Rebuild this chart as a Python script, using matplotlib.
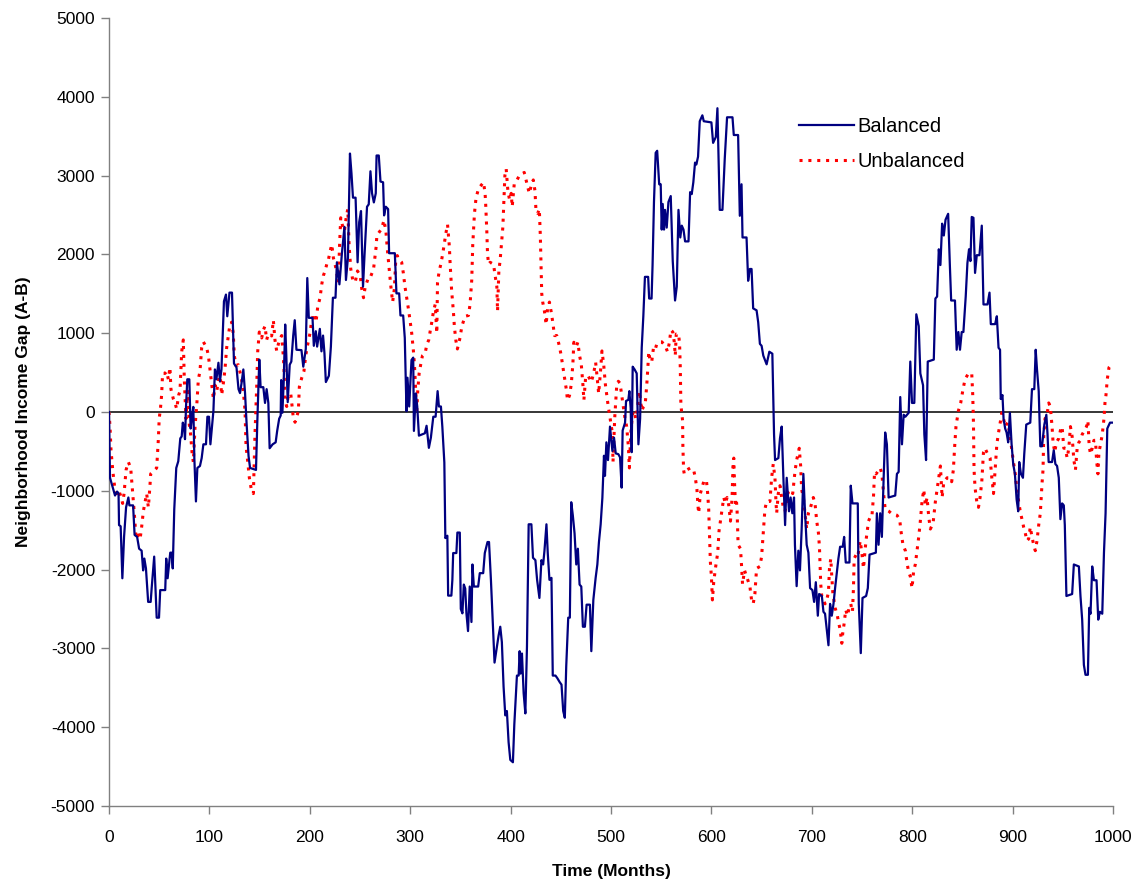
import matplotlib
matplotlib.use("Agg")
import matplotlib.pyplot as plt

plt.rcParams["font.family"] = ["Liberation Sans", "DejaVu Sans"]
plt.rcParams["axes.unicode_minus"] = False

# (month, income gap) points
balanced = [
    (0, 0), (1, -835), (4.3, -985), (6, -1060), (8, -1010), (9.5, -1030), (10, -1435),
    (11.6, -1450), (13.3, -2110), (15, -1585), (17, -1210), (19.3, -1085), (20.3, -1185),
    (24, -1185), (25.5, -1560), (28, -1585), (30, -1735), (32.5, -1760), (34, -2010),
    (35.2, -1860), (36.8, -1985), (39, -2410), (41.5, -2410), (42.5, -2235), (45, -1835),
    (47.5, -2610), (49.8, -2610), (51, -2260), (56, -2260), (57, -1860), (58.4, -2110),
    (61, -1785), (62.4, -1785), (63.5, -1985), (65, -1235), (67, -710), (69, -625),
    (71, -335), (72.4, -310), (73.5, -135), (74.7, -185), (75.7, -345), (76.7, 65),
    (78, 415), (80, 415), (81.3, -210), (82.7, -60), (84, 65), (85, -585), (86.6, -1135),
    (88, -710), (90.6, -685), (92.3, -585), (94, -410), (96.6, -410), (98, -60),
    (99.6, -60), (101, -410), (104, 15), (105.5, 540), (107, 415), (109, 625),
    (110.5, 390), (112, 540), (114.5, 1405), (116.5, 1490), (117.8, 1215), (120, 1515),
    (122.5, 1515), (124.5, 615), (127, 565), (129, 290), (130.5, 240), (132, 365),
    (133.8, 540), (135.5, 240), (137, -135), (139, -560), (140.5, -710), (146.4, -735),
    (147.7, -135), (149.7, 665), (151, 315), (153.7, 315), (155.4, 115), (157, 290),
    (158.7, 115), (160, -460), (163, -410), (166, -385), (167.5, -240), (169.5, -85),
    (171, -45), (171.5, 405), (172.7, -10), (174, 380), (175.5, 1110), (176.6, 720),
    (178, 125), (180, 600), (181.6, 640), (183.5, 970), (185, 1165), (186.7, 790),
    (191.7, 785), (193.5, 575), (196, 800), (197.5, 1700), (199, 1195), (202.7, 1195),
    (204, 840), (206, 1025), (207.3, 830), (210, 1055), (211.6, 770), (213.2, 970),
    (214.6, 745), (216, 380), (219, 460), (221, 830), (223, 1450), (225.6, 1450),
    (227, 1900), (229.5, 1620), (232, 2015), (234.5, 2350), (236, 1675), (238, 1960),
    (240, 3280), (241.5, 3030), (243, 2720), (245.6, 2720), (247.6, 1900), (249.2, 2410),
    (251, 2550), (253, 1590), (254.6, 2015), (257, 2605), (258.7, 2635), (260.4, 3055),
    (262, 2775), (263.8, 2660), (265.7, 2775), (266.5, 3255), (268.7, 3255),
    (270.4, 2925), (273, 2915), (274, 2495), (275.7, 2605), (278, 2575), (279, 2015),
    (284.7, 2015), (286.3, 1505), (289, 1505), (290.3, 1225), (293, 1225), (294.6, 940),
    (296.3, 10), (297.3, 435), (299, 70), (301.3, 660), (303, 690), (303.7, -240),
    (305.6, 235), (307, 70), (308.7, -300), (314.6, -270), (316.3, -175), (318.6, -455),
    (320.6, -325), (323, -60), (325.3, -60), (327.3, 265), (328.6, 70), (330.6, 70),
    (332, -185), (334, -640), (335, -1600), (337, -1570), (337.8, -2330), (341, -2330),
    (342, -2130), (342.8, -1790), (346, -1790), (347, -1530), (349.4, -1530),
    (350.4, -2500), (352, -2555), (353.4, -2190), (354.8, -2240), (356, -2555),
    (357.6, -2780), (359.3, -2215), (361, -2665), (362, -1935), (363.4, -2215),
    (367.7, -2215), (369.3, -2045), (372.7, -2045), (374.3, -1790), (377, -1650),
    (378.5, -1650), (380.4, -2130), (382.4, -2725), (384, -3180), (386.4, -2980),
    (388, -2840), (389.7, -2725), (391.3, -2920), (393, -3485), (394.7, -3850),
    (396.3, -3795), (398, -4190), (399.7, -4415), (402.3, -4445), (403.7, -3965),
    (406.3, -3345), (408, -3345), (409, -3035), (410, -3320), (411.3, -3065),
    (413, -3570), (414.7, -3825), (416.3, -2980), (418, -1425), (420.7, -1425),
    (422.3, -1850), (424.7, -1880), (426.4, -2130), (428.7, -2360), (430.7, -1880),
    (432.4, -1935), (433.7, -1765), (435.7, -1425), (437, -1790), (438.7, -2130),
    (440.7, -2105), (442, -3345), (444.7, -3345), (446.4, -3375), (449, -3430),
    (450.7, -3460), (452.4, -3795), (454, -3880), (455.4, -3230), (457.4, -2610),
    (459, -2610), (460.4, -1145), (462, -1315), (463.7, -1540), (465.4, -1935),
    (467, -1735), (468.7, -2190), (470.4, -2215), (472, -2725), (474, -2725),
    (475.7, -2445), (479, -2445), (480.4, -3035), (482.4, -2385), (484.7, -2105),
    (486.4, -1935), (488, -1650), (489.7, -1425), (491.4, -1090), (493, -555),
    (494, -810), (495.4, -385), (497, -610), (499, -185), (501.4, -495), (503, -325),
    (504.7, -525), (507.3, -535), (509, -575), (510.6, -960), (511.6, -235), (514, -135),
    (515, 140), (517.3, 155), (518.3, 265), (519.6, 50), (520.6, -510), (521.6, 575),
    (523.5, 540), (525.6, 490), (527.3, -410), (529, -85), (530.6, 815), (532.2, 1215),
    (533.8, 1715), (537, 1715), (538, 1440), (540.4, 1440), (541.4, 1865), (542.8, 2665),
    (544.5, 3290), (546, 3315), (548, 2890), (549.5, 2890), (550.5, 2315), (551.5, 2640),
    (552.8, 2315), (553.8, 2565), (555.5, 2340), (557.2, 2665), (559.5, 2740),
    (561.5, 1915), (563.8, 1415), (565.5, 1590), (567.2, 2565), (569, 2215),
    (570.5, 2365), (572.2, 2315), (573.8, 2165), (577.2, 2165), (578.8, 2790),
    (580.4, 2765), (582, 2915), (583.7, 3165), (585, 3140), (586.7, 3240), (588.4, 3690),
    (591, 3765), (592.4, 3690), (600, 3675), (601.7, 3415), (604.4, 3490), (606, 3855),
    (608.3, 2565), (611, 2565), (613.3, 3215), (615.6, 3740), (621, 3740), (622.3, 3515),
    (626.6, 3515), (628.3, 2490), (630, 2890), (631, 2215), (635, 2215), (636.6, 1665),
    (638.3, 1815), (640, 1815), (641.6, 1315), (645, 1290), (646.6, 1140), (648.3, 865),
    (650, 840), (651.7, 715), (655, 605), (657.7, 765), (660.7, 740), (662.4, -285),
    (663.4, -610), (666.7, -585), (668.3, -335), (670, -185), (671.7, -835),
    (673.4, -1435), (675, -835), (677.3, -1260), (678.9, -1085), (680.6, -1285),
    (682.3, -1085), (683.2, -1685), (684.9, -2210), (686.6, -1760), (688.2, -2010),
    (689.9, -1485), (691.6, -785), (693.2, -1260), (694.9, -1685), (696.6, -1785),
    (698.3, -2235), (700.6, -2260), (702.3, -2410), (704, -2160), (706, -2585),
    (707.3, -2310), (710, -2335), (711.6, -2535), (713.2, -2560), (714.9, -2760),
    (716.6, -2960), (718.2, -2435), (719.9, -2585), (721.6, -2435), (723.2, -2235),
    (726.5, -1860), (728.2, -1710), (730.8, -1710), (732.2, -1585), (733.8, -1910),
    (737.5, -1910), (738.8, -935), (740.5, -1160), (745.8, -1160), (746.8, -2435),
    (748.8, -3060), (750.5, -2360), (754.1, -2335), (755.8, -2235), (757.5, -1810),
    (763.8, -1785), (764.8, -1285), (766.5, -1685), (768.1, -1285), (769.8, -1585),
    (771.5, -860), (773.1, -260), (774.8, -410), (776.5, -1085), (783.1, -1060),
    (784.8, -785), (786.5, -760), (788.1, 190), (789.8, -410), (791.5, -35),
    (793.2, -60), (796.5, -10), (798.1, 640), (799.8, 115), (802.1, 115), (804.1, 1240),
    (806.5, 1090), (808.1, 490), (810.8, 340), (812.1, -285), (813.8, -610),
    (815.5, 640), (821.5, 665), (823.1, 1440), (824.8, 1465), (826.5, 2065),
    (828.1, 1865), (829.8, 2390), (831.5, 2240), (833.2, 2440), (835.8, 2515),
    (837.5, 1865), (838.8, 1415), (842.6, 1415), (844.3, 790), (846, 1015), (847.6, 790),
    (849.3, 1015), (851, 1015), (853.3, 1465), (855, 1890), (856.6, 2065), (858, 1915),
    (859.3, 2475), (861, 2465), (862.6, 1765), (864.3, 1990), (867, 1990), (869.3, 2365),
    (871, 1365), (875, 1365), (877, 1515), (878.3, 1115), (882.6, 1115), (884.3, 1215),
    (886, 815), (887.5, 790), (888.2, 165), (889.9, 215), (891, -85), (892.6, -210),
    (894, -260), (895.6, -385), (897.3, -10), (899, -410), (900.6, -660), (902.3, -785),
    (904, -1110), (905.6, -1260), (906.6, -635), (908.3, -785), (910.3, -835),
    (911.6, -535), (913.6, -160), (917.6, -135), (919.3, 290), (921.6, 290), (923, 790),
    (924.3, 540), (926, 265), (927.6, -435), (929.3, -435), (931.6, -160), (933.6, -35),
    (934.8, -285), (935.9, -635), (939.3, -635), (941, -485), (942.6, -660),
    (944.3, -685), (946, -835), (947.6, -1360), (949.3, -1160), (951, -1185),
    (952, -1435), (953.6, -2335), (959.3, -2310), (961, -1935), (966, -1960),
    (967.6, -2335), (969.3, -2635), (971, -3210), (972.6, -3335), (975, -3335),
    (976.3, -2485), (977.6, -2560), (979.3, -1960), (981, -2135), (983.6, -2135),
    (985.3, -2635), (987, -2535), (989.3, -2560), (991, -1785), (992.6, -1285),
    (994.3, -210), (997, -135), (999.3, -135),
]

unbalanced = [
    (0, 0), (1, -185), (2, -485), (3.7, -735), (5, -885), (7, -1085), (9.3, -985),
    (11.6, -1060), (13.6, -1160), (15, -1035), (17, -735), (19.3, -635), (21.6, -710),
    (23.5, -1010), (25.2, -1285), (27, -1610), (29.2, -1560), (31, -1610), (32.5, -1460),
    (34.2, -1260), (37.5, -1035), (39.2, -1210), (40.8, -935), (41.5, -785),
    (47.5, -710), (49.1, -360), (50, -85), (51.4, 65), (52.4, 215), (53.4, 490),
    (55.8, 490), (57.4, 515), (59.1, 415), (60.7, 565), (61.7, 290), (64.1, 165),
    (65.7, 115), (67.4, 40), (69.4, 215), (70.7, 265), (72.4, 765), (74, 915), (75, 415),
    (76.7, -85), (78.3, 265), (80, -160), (81.3, -285), (82.7, -510), (84, -635),
    (85.7, -185), (87.3, 65), (89, 415), (90.6, 515), (92.3, 815), (94, 890),
    (97.3, 815), (99, 715), (100.6, 540), (104, 165), (105.6, 340), (107.3, 265),
    (110.5, 515), (112.2, 215), (113.9, 365), (115.5, 540), (117.2, 815), (118.8, 965),
    (120.5, 1115), (122.2, 1140), (123.8, 990), (124.8, 715), (126.5, 590),
    (128.8, 600), (132.1, 415), (133.8, 265), (135.5, 15), (136.5, -435), (137.8, -585),
    (139.8, -835), (142.1, -1010), (143.8, -1035), (145.4, -285), (147.1, 315),
    (148.1, 765), (149.7, 1015), (152.1, 940), (153.7, 1040), (155.4, 1090), (157, 915),
    (158.7, 990), (162, 965), (163.7, 1165), (165.3, 915), (167, 775), (169.7, 915),
    (172, 970), (173.6, 715), (174.3, 545), (175.3, 150), (177, 70), (178.6, 210),
    (181, 235), (183.6, -75), (185.3, -130), (188.6, 10), (189.6, 320), (192, 435),
    (194.2, 520), (195.9, 715), (197.5, 830), (200.2, 1000), (201.9, 1165),
    (204.2, 1250), (206.2, 1140), (207.9, 1335), (210.2, 1450), (211.9, 1620),
    (213.5, 1730), (215.2, 1790), (216.9, 1875), (218.5, 1930), (220.2, 2040),
    (221.9, 2125), (223.5, 1955), (225.2, 1875), (226.8, 1760), (228.5, 1645),
    (229.5, 2070), (230.8, 2465), (232.8, 2350), (234.5, 2295), (236.2, 2465),
    (237.8, 2575), (239.2, 2100), (240.8, 1815), (242.8, 1675), (245.2, 1645),
    (247.5, 1790), (250.2, 1730), (251.8, 1560), (253.5, 1450), (255.2, 1590),
    (258.5, 1705), (260.2, 1705), (263.5, 1815), (266.1, 2100), (266.8, 2240),
    (271.5, 2325), (273.9, 2435), (275.8, 2295), (277.2, 2070), (278.8, 1845),
    (280.5, 1620), (282.5, 1395), (284.2, 1560), (285.5, 1900), (287.1, 1985),
    (289.1, 1930), (291.5, 1900), (293.2, 1760), (294.8, 1590), (296.5, 1450),
    (298.2, 1310), (299.8, 1165), (301.5, 1000), (303.2, 775), (304.2, 605),
    (305.5, 265), (306.5, 10), (307.5, 265), (308.9, 490), (310.5, 605), (312.2, 715),
    (314.9, 745), (316.5, 855), (318.5, 915), (319.9, 1025), (321.5, 1140),
    (323.2, 1280), (324.9, 1365), (326.5, 1000), (327.2, 1645), (328.9, 1790),
    (330.5, 1875), (332.5, 2015), (335.5, 2265), (337.2, 2380), (339, 2100),
    (339.7, 1900), (341.3, 1535), (343, 1280), (344, 1085), (345.4, 915), (347, 800),
    (349.6, 940), (351.4, 1085), (354.6, 1215), (358, 1225), (359.6, 1365),
    (361.3, 1675), (362.3, 2125), (364, 2520), (365.6, 2720), (368, 2830),
    (369.6, 2860), (373, 2915), (374.6, 2775), (375.3, 2605), (376.3, 2295),
    (377, 2015), (378, 1875), (379.6, 1900), (383, 1875), (384.6, 1730), (386.3, 1590),
    (387, 1280), (388.3, 1790), (389.6, 1930), (392.3, 2350), (393.4, 2690),
    (394.3, 3000), (395.6, 3085), (397.3, 2805), (399, 2690), (400.6, 2775),
    (401.6, 2605), (403.6, 2890), (405.3, 2915), (408.6, 3000), (413.6, 3040),
    (416, 2915), (418.6, 2775), (420.3, 2860), (422.6, 2945), (424.3, 2805),
    (425.3, 2550), (427, 2520), (428.6, 2575), (429.6, 2240), (430.3, 1845),
    (431, 1505), (432, 1395), (433.7, 1280), (435.4, 1110), (437, 1335), (438.7, 1395),
    (440.3, 1280), (442, 1140), (443.7, 970), (446, 970), (448.7, 830), (450.4, 715),
    (452, 575), (453.7, 435), (455.4, 295), (456.7, 150), (458.7, 210), (460.4, 350),
    (462, 605), (463, 885), (465.4, 830), (467, 885), (468.7, 715), (470.4, 605),
    (472, 350), (473, 150), (474.7, 435), (477, 465), (480.4, 380), (482.7, 490),
    (484.7, 630), (486, 465), (487.7, 235), (489.4, 490), (491, 775), (492.7, 605),
    (494.4, 350), (497, 95), (498.7, -45), (499.7, -130), (501.4, -270), (502, -635),
    (503.7, -75), (505.6, 315), (507.3, 390), (509, 365), (510.6, 215), (512.3, 65),
    (514, -85), (515.6, -185), (517.3, -435), (518.3, -710), (519.6, -285),
    (521.3, -35), (523, 15), (524.6, -85), (526.3, 40), (528.3, 265), (530.6, 15),
    (532.3, 65), (534, 90), (535.6, 340), (536.6, 540), (537.6, 765), (539, 640),
    (540.6, 640), (542.3, 815), (544, 790), (545.6, 865), (548.3, 890), (550.6, 890),
    (554, 840), (556.3, 765), (558.3, 890), (559.6, 1040), (561.6, 1015), (563, 890),
    (564, 715), (565, 990), (567.3, 990), (568.3, 865), (569, 565), (569.6, 90),
    (571.3, -110), (571.6, -435), (572.3, -735), (573, -785), (575.6, -735),
    (579, -710), (582.3, -735), (584, -835), (585.6, -985), (586.6, -1185),
    (587.3, -1285), (589, -1035), (592.3, -885), (595, -860), (596.3, -1035),
    (597.3, -1235), (598.3, -1610), (599, -1910), (600, -2085), (601, -2385),
    (602.3, -2160), (604, -1985), (606.3, -1785), (607.6, -1510), (609, -1385),
    (610.6, -1235), (612.3, -1085), (614, -1160), (615.6, -1085), (617.3, -1185),
    (619, -1385), (620.6, -1085), (621.6, -635), (622.3, -585), (623, -885),
    (624, -1185), (625, -1135), (625.6, -1260), (626.6, -1685), (629, -1735),
    (630.3, -2010), (631, -2185), (633, -2010), (638.3, -2210), (640, -2385),
    (641.6, -2435), (643.3, -2310), (645, -1985), (648.3, -1960), (650, -1835),
    (651.6, -1535), (653.3, -1235), (655, -1135), (658.3, -1135), (660, -835),
    (661.6, -660), (663.3, -835), (664.3, -1135), (665, -1285), (666.6, -1035),
    (668.3, -935), (670, -1085), (671.6, -1210), (673.3, -1260), (675, -1160),
    (676.6, -1010), (678.3, -985), (681, -1035), (683.2, -760), (684.9, -610),
    (687.5, -460), (688.9, -685), (689.9, -985), (691.6, -1085), (693.2, -1285),
    (694.9, -1485), (696.6, -1285), (698.2, -1235), (701.5, -1085), (703.2, -1160),
    (704.9, -1385), (706.6, -1535), (707.6, -1710), (708.2, -1935), (708.9, -2185),
    (709.9, -2335), (711.6, -2385), (713.2, -2435), (714.9, -2385), (716.6, -2285),
    (717.6, -1985), (718.9, -1860), (719.9, -2085), (720.9, -2285), (723.2, -2485),
    (725.5, -2585), (726.5, -2660), (728.2, -2760), (729.9, -2935), (730.8, -2810),
    (732.2, -2685), (733.8, -2510), (735.5, -2585), (737.2, -2485), (738.8, -2435),
    (740.5, -2535), (741.5, -2235), (742.2, -1860), (744.2, -1810), (745.8, -1835),
    (748.2, -1635), (749.8, -1785), (751.5, -1985), (753.2, -1735), (754.2, -1610),
    (755.5, -1485), (756.5, -1385), (758.1, -1335), (759.8, -1335), (761.5, -1060),
    (762.5, -760), (764.1, -785), (768.1, -710), (769.8, -785), (771.5, -1035),
    (773.1, -1235), (776.8, -1260), (779.1, -1285), (784.8, -1310), (787.5, -1360),
    (788.8, -1510), (790.8, -1685), (793.2, -1760), (794.8, -1910), (796.5, -2035),
    (798.1, -2085), (799.8, -2235), (801.5, -2010), (803.1, -1935), (804.8, -1760),
    (806.5, -1585), (808.1, -1385), (809.8, -1135), (811.5, -985), (813.2, -1185),
    (814.8, -1085), (816.5, -1335), (818.1, -1485), (820.8, -1410), (823.1, -1135),
    (824.8, -985), (826.5, -835), (828.1, -685), (829.8, -1085), (831.5, -885),
    (834.8, -835), (838.1, -835), (839.3, -885), (841, -735), (842.3, -435),
    (843.6, -185), (846, 15), (848.3, 115), (850.3, 265), (852.6, 415), (856, 490),
    (859.3, 490), (860.3, 215), (861, -135), (861.6, -735), (862.6, -960),
    (864.3, -1135), (866, -1210), (867.6, -1085), (869.3, -885), (871, -510),
    (872.6, -460), (874.3, -510), (877.6, -585), (879.3, -835), (881, -1035),
    (882.6, -735), (884.3, -410), (886, -260), (887.6, -135), (889.3, -10), (891, -85),
    (892.6, -185), (895, -135), (897, -260), (898.3, -385), (900.3, -585),
    (902.6, -785), (904.3, -985), (906, -1135), (907.6, -1260), (909.3, -1360),
    (911, -1460), (912.6, -1535), (914.3, -1635), (916, -1610), (917.6, -1460),
    (919.3, -1585), (921, -1685), (922.6, -1760), (924.3, -1635), (926, -1435),
    (927.6, -1285), (929.3, -910), (930.3, -735), (931, -310), (932.3, -85),
    (934.3, -35), (936, 115), (937.6, 65), (939.3, -185), (940.3, -385), (942, -510),
    (943.6, -385), (946, -335), (947.6, -235), (949.3, -185), (951, -460),
    (952.6, -460), (954.3, -585), (956, -460), (957.6, -185), (959.3, -310),
    (961, -610), (962.6, -735), (964.3, -460), (966, -385), (967.6, -360),
    (969.3, -285), (971.6, -235), (973.6, -185), (975, -110), (976.3, -435),
    (977.6, -535), (979.3, -460), (981, -360), (982.6, -360), (983.6, -610),
    (985, -785), (986, -510), (987.6, -410), (989.3, -285), (991, -85), (992, 115),
    (993, 215), (994.3, 415), (996, 565), (997.6, 590),
]

x_ticks = list(range(0, 1001, 100))
y_ticks = list(range(-5000, 5001, 1000))

bal_t, bal_v = zip(*balanced)
unb_t, unb_v = zip(*unbalanced)

fig = plt.figure(figsize=(11.38, 8.84), dpi=100)
ax = fig.add_axes([109 / 1138, 1 - 806 / 884, (1113 - 109) / 1138, (806 - 18) / 884])

ax.axhline(0, color="black", lw=1.1, zorder=1)
ax.plot(bal_t, bal_v, color="#000080", lw=1.6, label="Balanced", zorder=3)
ax.plot(unb_t, unb_v, color="#ff0000", lw=2.2, linestyle=(0, (1.0, 1.9)),
        label="Unbalanced", zorder=2)

ax.set_xlim(0, 1000)
ax.set_ylim(-5000, 5000)
ax.set_xticks(x_ticks)
ax.set_yticks(y_ticks)
ax.tick_params(direction="out", length=6, width=1, color="#808080",
               labelsize=12.5, labelcolor="black")
ax.tick_params(axis="x", pad=11)
ax.tick_params(axis="y", pad=4)

for side in ["top", "right"]:
    ax.spines[side].set_visible(False)
for side in ["left", "bottom"]:
    ax.spines[side].set_color("#808080")
    ax.spines[side].set_linewidth(1)

ax.set_xlabel("Time (Months)", fontsize=12.5, fontweight="bold", labelpad=14)
ax.set_ylabel("Neighborhood Income Gap (A-B)", fontsize=12.5, fontweight="bold", labelpad=14)

ax.legend(loc="upper left", bbox_to_anchor=(781 / 1138, 1 - 99 / 884),
          bbox_transform=fig.transFigure, frameon=False, fontsize=14.5,
          handlelength=2.7, handletextpad=0.2, labelspacing=0.78)

fig.savefig("out.png", dpi=100)
